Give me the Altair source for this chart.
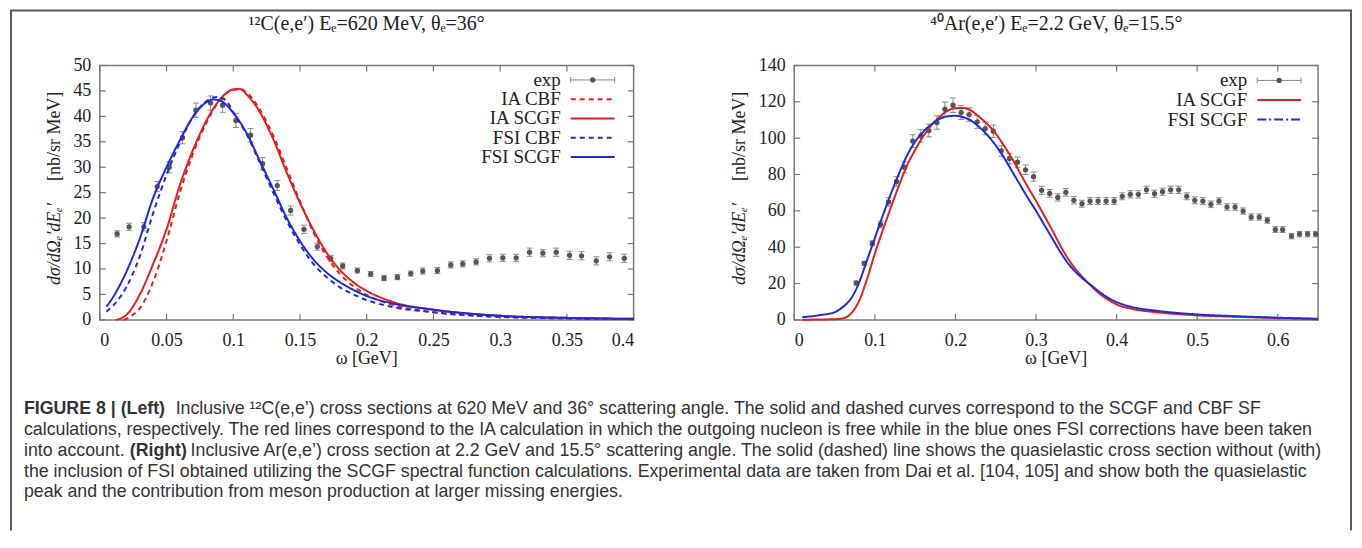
import altair as alt
import pandas as pd

# ------------------------------------------------------------------ data
# Left panel: 12C(e,e') 620 MeV, 36 deg
L_EXP_W = [0.013, 0.022, 0.033, 0.043, 0.052, 0.062, 0.072, 0.083, 0.092, 0.102,
           0.113, 0.122, 0.133, 0.143, 0.153, 0.163, 0.173, 0.182, 0.193, 0.203,
           0.213, 0.223, 0.233, 0.242, 0.253, 0.263, 0.272, 0.282, 0.292, 0.302,
           0.312, 0.322, 0.332, 0.342, 0.352, 0.361, 0.372, 0.382, 0.393]
L_EXP_V = [16.9, 18.3, 18.3, 26.2, 30.0, 35.8, 41.2, 42.6, 42.2, 39.2,
           36.3, 30.7, 26.4, 21.5, 17.8, 14.4, 12.1, 10.6, 9.7, 9.0,
           8.2, 8.4, 9.1, 9.6, 9.7, 10.8, 11.0, 11.4, 12.1, 12.2,
           12.2, 13.3, 13.1, 13.3, 12.7, 12.6, 11.6, 12.4, 12.1]
L_EXP_E = [0.6, 0.7, 0.8, 1.0, 1.1, 1.2, 1.4, 1.4, 1.4, 1.4,
           1.3, 1.2, 1.0, 0.9, 0.8, 0.7, 0.6, 0.6, 0.5, 0.5,
           0.5, 0.5, 0.5, 0.6, 0.6, 0.6, 0.6, 0.6, 0.7, 0.7,
           0.7, 0.8, 0.7, 0.8, 0.8, 0.8, 0.8, 0.8, 0.8]

L_IA_CBF_W = [0.018, 0.025, 0.03, 0.04, 0.05, 0.06, 0.07, 0.08, 0.09, 0.10, 0.105, 0.11, 0.12,
              0.13, 0.14, 0.15, 0.16, 0.17, 0.18, 0.19, 0.20, 0.22, 0.25, 0.30, 0.35, 0.40]
L_IA_CBF_V = [0.0, 1.0, 2.3, 7.5, 15.5, 25.0, 32.8, 38.8, 43.2, 45.2, 45.3, 44.7, 41.3,
              36.2, 29.8, 23.3, 17.3, 12.5, 9.0, 6.6, 4.9, 2.9, 1.5, 0.6, 0.3, 0.15]
L_IA_SCGF_W = [0.012, 0.02, 0.03, 0.04, 0.05, 0.06, 0.07, 0.08, 0.09, 0.10, 0.105, 0.11, 0.12,
               0.13, 0.14, 0.15, 0.16, 0.17, 0.18, 0.19, 0.20, 0.22, 0.25, 0.30, 0.35, 0.40]
L_IA_SCGF_V = [0.0, 1.0, 5.0, 11.0, 17.8, 26.5, 33.5, 39.2, 43.3, 45.3, 45.4, 44.3, 40.8,
               35.5, 29.0, 23.0, 17.7, 13.2, 9.8, 7.4, 5.7, 3.5, 2.0, 0.8, 0.4, 0.2]
L_FSI_CBF_W = [0.005, 0.01, 0.02, 0.03, 0.04, 0.05, 0.06, 0.07, 0.08, 0.088, 0.095, 0.10, 0.11,
               0.12, 0.13, 0.14, 0.15, 0.16, 0.17, 0.18, 0.19, 0.20, 0.22, 0.25, 0.30, 0.35, 0.40]
L_FSI_CBF_V = [1.6, 2.8, 6.5, 12.5, 21.0, 28.5, 34.8, 40.0, 43.0, 43.8, 43.0, 40.8, 36.5,
               30.8, 25.0, 19.5, 14.8, 11.0, 8.4, 6.4, 5.0, 3.9, 2.5, 1.5, 0.6, 0.3, 0.15]
L_FSI_SCGF_W = [0.005, 0.01, 0.02, 0.03, 0.04, 0.05, 0.06, 0.07, 0.08, 0.085, 0.09, 0.10, 0.11,
                0.12, 0.13, 0.14, 0.15, 0.16, 0.17, 0.18, 0.19, 0.20, 0.22, 0.25, 0.30, 0.35, 0.40]
L_FSI_SCGF_V = [2.6, 4.5, 9.5, 16.0, 24.0, 30.0, 35.3, 40.0, 42.8, 43.3, 43.1, 40.7, 36.7,
                31.2, 25.7, 20.1, 15.5, 11.9, 9.3, 7.4, 5.9, 4.7, 3.2, 2.0, 0.8, 0.4, 0.2]

# Right panel: 40Ar(e,e') 2.2 GeV, 15.5 deg
R_EXP_W = [0.077, 0.087, 0.097, 0.107, 0.117, 0.127, 0.137, 0.147, 0.157, 0.167,
           0.177, 0.187, 0.197, 0.207, 0.217, 0.227, 0.237, 0.247, 0.257, 0.267,
           0.277, 0.287, 0.297, 0.307, 0.317, 0.327, 0.337, 0.347, 0.357, 0.367,
           0.377, 0.387, 0.397, 0.407, 0.417, 0.427, 0.437, 0.447, 0.457, 0.467,
           0.477, 0.487, 0.497, 0.507, 0.517, 0.527, 0.537, 0.547, 0.557, 0.567,
           0.577, 0.587, 0.597, 0.606, 0.617, 0.627, 0.637, 0.647]
R_EXP_V = [20.3, 31.1, 42.2, 52.5, 64.9, 76.2, 83.9, 98.4, 101.3, 104.2,
           108.6, 115.9, 118.1, 114.1, 113.0, 109.0, 105.3, 103.8, 93.0, 88.8,
           86.8, 82.6, 78.8, 71.3, 69.6, 67.4, 70.2, 65.8, 63.9, 65.4,
           65.4, 65.4, 65.4, 68.0, 69.1, 69.1, 71.6, 69.4, 70.5, 71.6,
           71.6, 68.0, 65.8, 65.4, 63.6, 65.4, 62.1, 62.1, 59.9, 56.6,
           56.6, 54.8, 49.7, 49.7, 46.1, 47.2, 47.2, 47.2]
R_EXP_E = [1.0, 1.1, 1.3, 1.8, 2.3, 2.6, 3.0, 3.5, 3.5, 3.5,
           3.7, 4.0, 4.0, 3.8, 3.7, 3.6, 3.4, 3.4, 3.0, 2.9,
           2.8, 2.6, 2.5, 2.2, 2.1, 2.0, 2.1, 2.0, 1.9, 1.9,
           1.9, 1.9, 1.9, 1.9, 2.0, 2.0, 2.0, 2.0, 2.0, 2.0,
           2.0, 1.9, 1.9, 1.9, 1.8, 1.8, 1.8, 1.8, 1.7, 1.7,
           1.7, 1.6, 1.6, 1.6, 1.5, 1.5, 1.5, 1.5]

R_CURVE_W = [0.01, 0.03, 0.05, 0.06, 0.07, 0.08, 0.09, 0.10, 0.11, 0.12, 0.13, 0.14, 0.15,
             0.16, 0.17, 0.18, 0.19, 0.20, 0.21, 0.22, 0.23, 0.24, 0.25, 0.26, 0.27, 0.28,
             0.29, 0.30, 0.31, 0.32, 0.33, 0.34, 0.35, 0.36, 0.37, 0.38, 0.39, 0.40, 0.42,
             0.45, 0.50, 0.55, 0.60, 0.65]
R_IA_SCGF_V = [0.1, 0.2, 0.4, 0.8, 3.3, 10.0, 22.0, 36.5, 49.5, 62.0, 74.0, 85.0, 93.5,
               101.0, 107.0, 111.5, 115.0, 116.5, 116.6, 115.0, 111.5, 107.5, 102.5, 96.0, 89.0, 81.0,
               73.0, 65.5, 57.5, 49.5, 41.0, 33.5, 27.5, 22.5, 18.0, 14.0, 11.0, 8.5, 6.0,
               4.2, 2.5, 1.7, 1.0, 0.5]
R_FSI_SCGF_V = [1.5, 2.5, 4.2, 7.0, 11.5, 20.0, 32.5, 45.0, 57.5, 69.5, 80.5, 90.5, 98.0,
                103.5, 107.5, 110.5, 112.0, 112.3, 111.5, 109.5, 106.0, 101.5, 96.0, 89.5, 82.0, 74.5,
                67.0, 60.0, 52.5, 45.0, 37.5, 31.0, 26.0, 22.0, 18.5, 15.0, 12.0, 9.8, 7.0,
                5.0, 3.0, 2.0, 1.2, 0.6]

L_XTICKS = [0, 0.05, 0.1, 0.15, 0.2, 0.25, 0.3, 0.35, 0.4]
L_YTICKS = [0, 5, 10, 15, 20, 25, 30, 35, 40, 45, 50]
R_XTICKS = [0, 0.1, 0.2, 0.3, 0.4, 0.5, 0.6]
R_YTICKS = [0, 20, 40, 60, 80, 100, 120, 140]

L_SERIES = ["IA CBF", "IA SCGF", "FSI CBF", "FSI SCGF"]
R_SERIES = ["IA SCGF", "FSI SCGF"]

TITLE_L = "¹²C(e,e′) Eₑ=620 MeV, θₑ=36°"
TITLE_R = "⁴⁰Ar(e,e′) Eₑ=2.2 GeV, θₑ=15.5°"
XTITLE = "ω [GeV]"
YTITLE_MATH = "dσ/dΩₑ′dEₑ′"
YTITLE_UNIT = "[nb/sr MeV]"

CAPTION = [
    [("FIGURE 8 | (Left)", True, 0),
     ("Inclusive ¹²C(e,e’) cross sections at 620 MeV and 36° scattering angle. The solid and dashed curves correspond to the SCGF and CBF SF", False, 152)],
    [("calculations, respectively. The red lines correspond to the IA calculation in which the outgoing nucleon is free while in the blue ones FSI corrections have been taken", False, 0)],
    [("into account.", False, 0), ("(Right)", True, 106),
     ("Inclusive Ar(e,e’) cross section at 2.2 GeV and 15.5° scattering angle. The solid (dashed) line shows the quasielastic cross section without (with)", False, 167)],
    [("the inclusion of FSI obtained utilizing the SCGF spectral function calculations. Experimental data are taken from Dai et al. [104, 105] and show both the quasielastic", False, 0)],
    [("peak and the contribution from meson production at larger missing energies.", False, 0)],
]

# ------------------------------------------------------------------ style
SERIF = "Liberation Serif"
SANS = "Liberation Sans"
RED = "#e0201c"
BLUE = "#1f2bd6"
GRAY = "#555555"
EGRAY = "#8a8a8a"
INK = "#222222"

LW, LH = 535, 255
RW, RH = 525, 255


def one():
    return pd.DataFrame({"a": [0]})


def txt(s, x, y, size=18, font=SERIF, align="center", angle=None, bold=False,
        italic=False, color=INK, baseline="middle"):
    kw = dict(fontSize=size, font=font, align=align, baseline=baseline, color=color)
    if angle is not None:
        kw["angle"] = angle
    if bold:
        kw["fontWeight"] = "bold"
    if italic:
        kw["fontStyle"] = "italic"
    return alt.Chart(pd.DataFrame({"t": [s]})).mark_text(**kw).encode(
        text="t:N", x=alt.value(x), y=alt.value(y))


def hline(x1, x2, y, color, width=2, dash=None):
    kw = dict(color=color, strokeWidth=width)
    if dash:
        kw["strokeDash"] = dash
    return alt.Chart(one()).mark_rule(**kw).encode(
        x=alt.value(x1), x2=alt.value(x2), y=alt.value(y))


def vline(x, y1, y2, color, width=2):
    return alt.Chart(one()).mark_rule(color=color, strokeWidth=width).encode(
        x=alt.value(x), y=alt.value(y1), y2=alt.value(y2))


def dot(x, y):
    return alt.Chart(one()).mark_circle(color=GRAY, size=28, opacity=1).encode(
        x=alt.value(x), y=alt.value(y))


def panel(curves, series, colors, dashes, exp_w, exp_v, exp_e, xdom, ydom,
          xticks, yticks, W, H, title, legend_x, legend_y0, legend_dy, ytitle_x, extra):
    ax_x = alt.Axis(values=xticks, labelExpr="datum.value + ''", title=None, ticks=False,
                    domain=False, grid=False, labelPadding=12, labelFont=SERIF,
                    labelFontSize=18, labelColor=INK)
    ax_y = alt.Axis(values=yticks, labelExpr="datum.value + ''", title=None, ticks=False,
                    domain=False, grid=False, labelPadding=9, labelFont=SERIF,
                    labelFontSize=18, labelColor=INK)
    sx = alt.Scale(domain=xdom, nice=False, zero=False)
    sy = alt.Scale(domain=ydom, nice=False, zero=False)

    def X(f="w"):
        return alt.X(f + ":Q", scale=sx, axis=ax_x)

    def Y(f="v"):
        return alt.Y(f + ":Q", scale=sy, axis=ax_y)

    exp = pd.DataFrame({"w": exp_w, "v": exp_v})
    exp["lo"] = [v - e for v, e in zip(exp_v, exp_e)]
    exp["hi"] = [v + e for v, e in zip(exp_v, exp_e)]

    layers = []
    # inward border ticks (gnuplot style, mirrored)
    tx = pd.DataFrame({"w": xticks})
    ty = pd.DataFrame({"v": yticks})
    layers.append(alt.Chart(tx).mark_rule(color="#777", strokeWidth=1.2).encode(
        x=X(), y=alt.value(H), y2=alt.value(H - 6)))
    layers.append(alt.Chart(tx).mark_rule(color="#777", strokeWidth=1.2).encode(
        x=X(), y=alt.value(0), y2=alt.value(6)))
    layers.append(alt.Chart(ty).mark_rule(color="#777", strokeWidth=1.2).encode(
        y=Y(), x=alt.value(0), x2=alt.value(6)))
    layers.append(alt.Chart(ty).mark_rule(color="#777", strokeWidth=1.2).encode(
        y=Y(), x=alt.value(W), x2=alt.value(W - 6)))

    # error bars
    layers.append(alt.Chart(exp).mark_rule(color=EGRAY, strokeWidth=1).encode(
        x=X(), y=Y("lo"), y2="hi:Q"))
    for f in ("lo", "hi"):
        layers.append(alt.Chart(exp).mark_rule(color=EGRAY, strokeWidth=1,
                                               xOffset=-3, x2Offset=3).encode(
            x=X(), x2="w:Q", y=Y(f)))
    layers.append(alt.Chart(exp).mark_circle(color=GRAY, size=28, opacity=1).encode(
        x=X(), y=Y()))

    # theory curves
    layers.append(alt.Chart(curves).mark_line(interpolate="monotone", strokeWidth=2).encode(
        x=X(), y=Y(),
        color=alt.Color("s:N", scale=alt.Scale(domain=series, range=colors), legend=None),
        strokeDash=alt.StrokeDash("s:N", scale=alt.Scale(domain=series, range=dashes),
                                  legend=None),
        order="w:Q"))

    # title & axis titles
    layers.append(txt(title, W / 2, -42, size=20))
    layers.append(txt(XTITLE, W / 2, 294, size=18))
    layers.append(txt(YTITLE_MATH, ytitle_x, 179, angle=270, italic=True, size=18))
    layers.append(txt(YTITLE_UNIT, ytitle_x, 71, angle=270, size=18))

    # legend (gnuplot style: label right-aligned, sample to the right)
    names = ["exp"] + series
    for i, name in enumerate(names):
        yy = legend_y0 + i * legend_dy
        layers.append(txt(name, legend_x, yy, align="right", size=19))
        sx0, sx1 = legend_x + 10, legend_x + 54
        if i == 0:
            layers.append(hline(sx0, sx1, yy, EGRAY, width=1))
            layers.append(vline(sx0, yy - 3, yy + 3, EGRAY, width=1))
            layers.append(vline(sx1, yy - 3, yy + 3, EGRAY, width=1))
            layers.append(dot((sx0 + sx1) / 2, yy))
        else:
            d = dashes[i - 1]
            layers.append(hline(sx0, sx1, yy, colors[i - 1], width=2,
                                dash=None if d == [1, 0] else d))
    layers.extend(extra)
    return alt.layer(*layers).properties(width=W, height=H)


def curve_df(pairs):
    rows = []
    for name, ws, vs in pairs:
        for w, v in zip(ws, vs):
            rows.append({"s": name, "w": w, "v": v})
    return pd.DataFrame(rows)


left_curves = curve_df([("IA CBF", L_IA_CBF_W, L_IA_CBF_V),
                        ("IA SCGF", L_IA_SCGF_W, L_IA_SCGF_V),
                        ("FSI CBF", L_FSI_CBF_W, L_FSI_CBF_V),
                        ("FSI SCGF", L_FSI_SCGF_W, L_FSI_SCGF_V)])
right_curves = curve_df([("IA SCGF", R_CURVE_W, R_IA_SCGF_V),
                         ("FSI SCGF", R_CURVE_W, R_FSI_SCGF_V)])

# figure frame and caption, anchored to the left panel
FRAME = "#5a5a5a"
extra = [
    hline(-90, 1255, -55, FRAME, width=2),
    vline(-89, -55, 466, FRAME, width=2),
    vline(1254, -55, 466, FRAME, width=2),
]
CAP_X0 = -76
CAP_Y0 = 344
for li, segs in enumerate(CAPTION):
    for s, bold, dx in segs:
        extra.append(txt(s, CAP_X0 + dx, CAP_Y0 + 21 * li, size=17.8, font=SANS,
                         align="left", bold=bold, color="#333333"))

left = panel(left_curves, L_SERIES, [RED, RED, BLUE, BLUE],
             [[5, 4], [1, 0], [5, 4], [1, 0]],
             L_EXP_W, L_EXP_V, L_EXP_E, [0, 0.4], [0, 50], L_XTICKS, L_YTICKS,
             LW, LH, TITLE_L, 462, 14.5, 19.3, -45, extra)
right = panel(right_curves, R_SERIES, [RED, BLUE], [[1, 0], [9, 3, 2, 3]],
              R_EXP_W, R_EXP_V, R_EXP_E, [0, 0.65], [0, 140], R_XTICKS, R_YTICKS,
              RW, RH, TITLE_R, 454, 15, 19.6, -54, [])

chart = alt.hconcat(left, right, spacing=161, bounds="flush").properties(
    padding=0
).configure_view(stroke="#777777", strokeWidth=1.5)

chart.save("out.html", embed_options={"renderer": "svg", "actions": False})
